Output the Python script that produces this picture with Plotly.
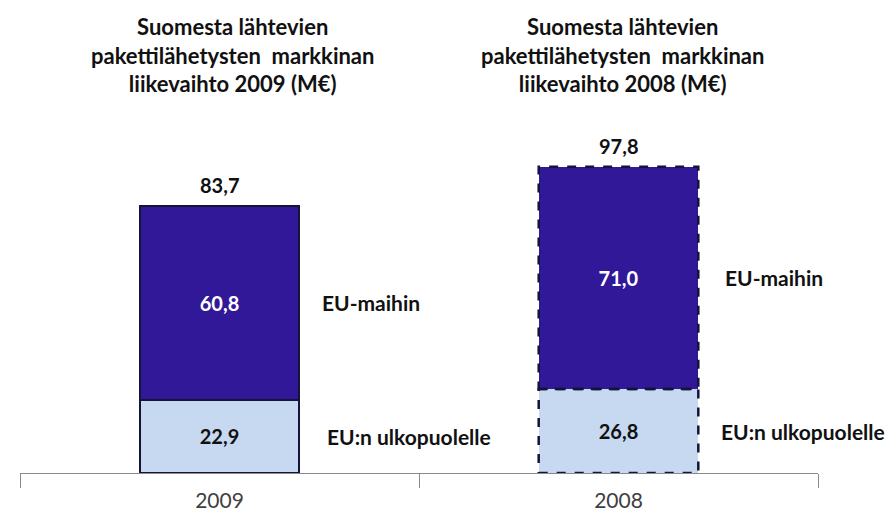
import plotly.graph_objects as go

categories = ["2009", "2008"]
eu_values = [60.8, 71.0]
non_eu_values = [22.9, 26.8]
series_names = ["EU:n ulkopuolelle", "EU-maihin"]
titles = [
    "Suomesta lähtevien<br>pakettilähetysten  markkinan<br>liikevaihto 2009 (M€)",
    "Suomesta lähtevien<br>pakettilähetysten  markkinan<br>liikevaihto 2008 (M€)",
]
# each year was drawn as its own small chart, with its own value scale
y_ranges = [[0, 114.4], [0, 116.6]]

DARK = "#301898"
LIGHT = "#C6D9F0"
BORDER = "#14143a"
FONT = "Lato"
BAR_W = 0.4
TXT = "#111111"

def fmt(v):
    return f"{v:.1f}".replace(".", ",")

fig = go.Figure()
annotations = []
shapes = []
yrefs = ["y", "y2"]
eu_shift = [21, 25]
non_eu_shift = [26, 21]
title_shift = [13, 4]

for i, cat in enumerate(categories):
    yref = yrefs[i]
    solid = (i == 0)
    fig.add_trace(go.Bar(
        x=[cat], y=[non_eu_values[i]], name=series_names[0], width=BAR_W, yaxis=yref,
        marker=dict(color=LIGHT, line=dict(color=BORDER, width=2 if solid else 0)),
        text=[fmt(non_eu_values[i])], textposition="inside", insidetextanchor="middle",
        textfont=dict(family=FONT, size=20, color=TXT, weight="bold"),
        hoverinfo="skip",
    ))
    fig.add_trace(go.Bar(
        x=[cat], y=[eu_values[i]], name=series_names[1], width=BAR_W, yaxis=yref,
        marker=dict(color=DARK, line=dict(color=BORDER, width=2 if solid else 0)),
        text=[fmt(eu_values[i])], textposition="inside", insidetextanchor="middle",
        textfont=dict(family=FONT, size=20, color="white", weight="bold"),
        hoverinfo="skip",
    ))
    total = eu_values[i] + non_eu_values[i]
    annotations.append(dict(
        x=i, y=total, yref=yref, text=fmt(total), showarrow=False, yanchor="bottom", yshift=7,
        font=dict(family=FONT, size=20, color=TXT, weight="bold"),
    ))
    annotations.append(dict(
        x=i + BAR_W / 2, y=non_eu_values[i] + eu_values[i] / 2, yref=yref, text=series_names[1],
        showarrow=False, xanchor="left", xshift=eu_shift[i],
        font=dict(family=FONT, size=21, color=TXT, weight="bold"),
    ))
    annotations.append(dict(
        x=i + BAR_W / 2, y=non_eu_values[i] / 2, yref=yref, text=series_names[0],
        showarrow=False, xanchor="left", xshift=non_eu_shift[i],
        font=dict(family=FONT, size=21, color=TXT, weight="bold"),
    ))
    annotations.append(dict(
        x=i, xshift=title_shift[i], y=1.0, yref="paper", yshift=9, yanchor="bottom",
        text=titles[i], showarrow=False, align="center",
        font=dict(family=FONT, size=22, color=TXT, weight="bold"),
    ))
    if not solid:
        for y0, y1 in [(0, non_eu_values[i]), (non_eu_values[i], total)]:
            shapes.append(dict(
                type="rect", xref="x", yref=yref, x0=i - BAR_W / 2, x1=i + BAR_W / 2,
                y0=y0, y1=y1, line=dict(color=BORDER, width=2.5, dash="dash"),
                fillcolor="rgba(0,0,0,0)", layer="above",
            ))

fig.update_layout(
    barmode="stack",
    width=895, height=522,
    margin=dict(l=12, r=85, t=100, b=57),
    paper_bgcolor="white", plot_bgcolor="white",
    showlegend=False,
    separators=", ",
    annotations=annotations,
    shapes=shapes,
    font=dict(family=FONT, color=TXT),
    xaxis=dict(
        type="category", showline=True, linecolor="#8a8a8a", linewidth=1,
        ticks="outside", tickson="boundaries", ticklen=14, tickcolor="#8a8a8a",
        tickfont=dict(family=FONT, size=21, color="#404040"), showgrid=False,
        ticklabelstandoff=9, range=[-0.5, 1.5],
    ),
    yaxis=dict(visible=False, range=y_ranges[0]),
    yaxis2=dict(visible=False, range=y_ranges[1], overlaying="y"),
)

fig.write_html("out.html")
